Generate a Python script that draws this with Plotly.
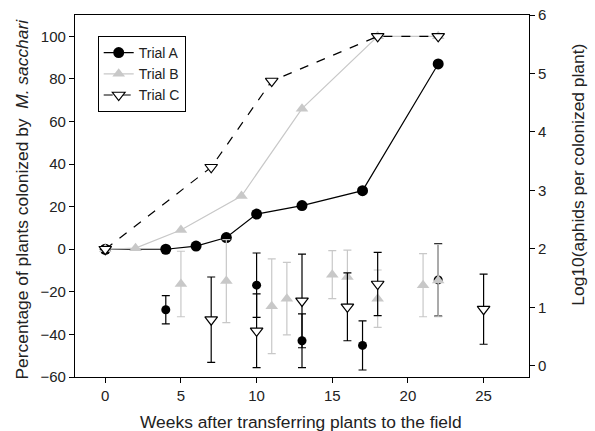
import plotly.graph_objects as go

# ---- Data ----
# Percentage of plants colonized (left axis)
weeks_A = [0, 4, 6, 8, 10, 13, 17, 22]
pct_A = [0, 0, 1.5, 5.5, 16.5, 20.5, 27.5, 87]
weeks_B = [0, 2, 5, 9, 13, 18, 22]
pct_B = [0, 0.5, 9, 25, 66, 100, 100]
weeks_C = [0, 7, 11, 18, 22]
pct_C = [0, 38.5, 79, 100, 100]

# Log10(aphids per colonized plant) with error (right axis)
lw_A = [4, 10, 13, 17, 22]
log_A = [0.96, 1.38, 0.43, 0.35, 1.47]
err_A = [0.24, 0.55, 0.46, 0.42, 0.62]
lw_B = [5, 8, 11, 12, 15, 16, 18, 21, 22]
log_B = [1.40, 1.45, 1.02, 1.15, 1.56, 1.52, 1.15, 1.38, 1.46]
err_B = [0.56, 0.71, 0.81, 0.62, 0.41, 0.46, 0.49, 0.54, 0.62]
lw_C = [7, 10, 13, 16, 18, 25]
log_C = [0.79, 0.60, 1.11, 1.01, 1.40, 0.97]
err_C = [0.73, 0.63, 0.80, 0.58, 0.54, 0.60]

x_ticks = [0, 5, 10, 15, 20, 25]
left_ticks = [-60, -40, -20, 0, 20, 40, 60, 80, 100]
right_ticks = [0, 1, 2, 3, 4, 5, 6]

x_title = "Weeks after transferring plants to the field"
y_title = "Percentage of plants colonized by  <i>M. sacchari</i>"
y2_title = "Log10(aphids per colonized plant)"

GRAY = "#c8c8c8"
FONT = "Liberation Sans, Arial, sans-serif"
TXT = "#222222"
TITLE_SIZE = 17.4

fig = go.Figure()

# bottom (right axis) error-bar series
fig.add_trace(go.Scatter(
    x=lw_A, y=log_A, mode="markers", yaxis="y2", showlegend=False,
    marker=dict(symbol="circle", size=9, color="black"),
    error_y=dict(type="data", array=err_A, color="black", thickness=1.2, width=4)))
fig.add_trace(go.Scatter(
    x=lw_B, y=log_B, mode="markers", yaxis="y2", showlegend=False,
    marker=dict(symbol="triangle-up", size=11, color=GRAY),
    error_y=dict(type="data", array=err_B, color=GRAY, thickness=1.2, width=4)))
fig.add_trace(go.Scatter(
    x=lw_C, y=log_C, mode="markers", yaxis="y2", showlegend=False,
    marker=dict(symbol="triangle-down", size=11, color="white",
                line=dict(color="black", width=1.2)),
    error_y=dict(type="data", array=err_C, color="black", thickness=1.2, width=4)))

# top (left axis) lines
fig.add_trace(go.Scatter(
    x=weeks_A, y=pct_A, mode="lines+markers", name="Trial A",
    line=dict(color="black", width=1.2),
    marker=dict(symbol="circle", size=11, color="black")))
fig.add_trace(go.Scatter(
    x=weeks_B, y=pct_B, mode="lines+markers", name="Trial B",
    line=dict(color=GRAY, width=1.2),
    marker=dict(symbol="triangle-up", size=11, color=GRAY)))
fig.add_trace(go.Scatter(
    x=weeks_C, y=pct_C, mode="lines+markers", name="Trial C",
    line=dict(color="black", width=1.2, dash="dash"),
    marker=dict(symbol="triangle-down", size=11, color="white",
                line=dict(color="black", width=1.2))))

axis_common = dict(showgrid=False, zeroline=False, showline=True, linecolor="black",
                   linewidth=1.2, ticks="outside", ticklen=5, tickcolor="black",
                   automargin=False,
                   tickfont=dict(size=15, color=TXT, family=FONT))

title_font = dict(size=TITLE_SIZE, color=TXT, family=FONT)

fig.update_layout(
    width=595, height=431,
    margin=dict(l=75, r=66, t=15, b=54),
    paper_bgcolor="white", plot_bgcolor="white",
    font=dict(family=FONT, size=15, color=TXT),
    xaxis=dict(range=[-2, 28], tickvals=x_ticks, mirror=True, **axis_common),
    yaxis=dict(range=[-60, 110], tickvals=left_ticks, **axis_common),
    yaxis2=dict(range=[-0.19, 6], tickvals=right_ticks, overlaying="y", side="right",
                **axis_common),
    legend=dict(x=0.05, y=0.942, xanchor="left", yanchor="top",
                bordercolor="black", borderwidth=1, bgcolor="white",
                font=dict(size=14, family=FONT, color=TXT), tracegroupgap=0,
                itemwidth=30),
    showlegend=True,
    annotations=[
        dict(text=x_title, xref="paper", yref="paper", x=0.498, y=-0.1243,
             xanchor="center", yanchor="middle", showarrow=False, font=title_font),
        dict(text=y_title, xref="paper", yref="paper", x=-0.1178, y=0.4917,
             textangle=-90, xanchor="center", yanchor="middle", showarrow=False,
             font=title_font),
        dict(text=y2_title, xref="paper", yref="paper", x=1.108, y=0.559,
             textangle=-90, xanchor="center", yanchor="middle", showarrow=False,
             font=title_font),
    ],
)

fig.write_html("out.html")
